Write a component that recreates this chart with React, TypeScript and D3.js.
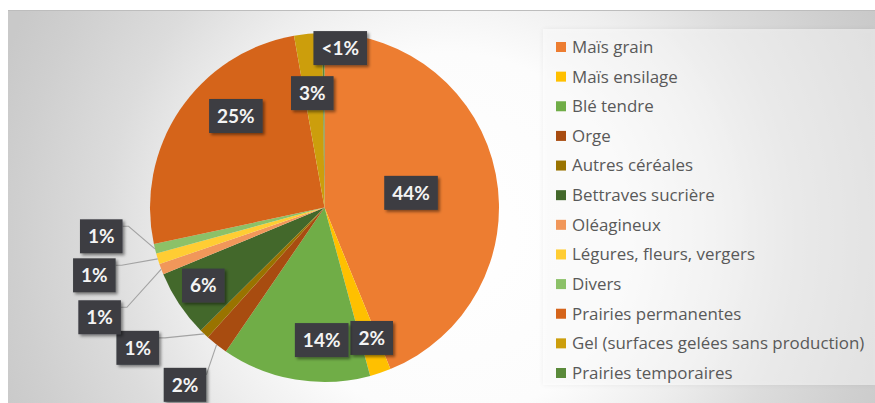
import React from 'react';
import * as d3 from 'd3';

const categories = [
  'Maïs grain',
  'Maïs ensilage',
  'Blé tendre',
  'Orge',
  'Autres céréales',
  'Bettraves sucrière',
  'Oléagineux',
  'Légures, fleurs, vergers',
  'Divers',
  'Prairies permanentes',
  'Gel (surfaces gelées sans production)',
  'Prairies temporaires',
];
const values = [43.9, 1.95, 13.8, 2.1, 0.9, 6.2, 1.0, 1.0, 0.9, 25.6, 2.6, 0.2];
const labelTexts = ['44%', '2%', '14%', '2%', '1%', '6%', '1%', '1%', '1%', '25%', '3%', '<1%'];
const colors = [
  '#ED7D31', '#FFC000', '#70AD47', '#A84C10', '#997300', '#43682B',
  '#F1975A', '#FFCD33', '#8CC168', '#D5641A', '#CC9E0C', '#5A8A3A',
];

// label layout: [angle offset from slice middle (deg), distance as fraction of radius, has leader line]
const labelLayout: [number, number, boolean][] = [
  [1.5, 0.503, false],
  [-1.2, 0.795, false],
  [-8.4, 0.76, false],
  [0, 1.293, true],
  [9.5, 1.339, true],
  [0.85, 0.826, false],
  [-5.3, 1.434, true],
  [0.7, 1.375, true],
  [6.35, 1.29, true],
  [12, 0.73, false],
  [-0.7, 0.659, false],
  [6, 0.918, false],
];

const W = 875;
const H = 403;
const cx = 324.5;
const cy = 207.5;
const R = 174.5;

const LABEL_FONT = 'bold 19px Lato';
let ctx: CanvasRenderingContext2D | null = null;
function measure(t: string, font: string) {
  if (!ctx) ctx = document.createElement('canvas').getContext('2d');
  if (!ctx) return t.length * 10;
  ctx.font = font;
  return ctx.measureText(t).width;
}

export default function App() {
  const pie = d3.pie<number>().sort(null).value((d) => d);
  const arcs = pie(values);
  const arc = d3.arc<d3.PieArcDatum<number>>().innerRadius(0).outerRadius(R);

  const legendY = d3.scalePoint<number>().domain(d3.range(categories.length)).range([47, 373]);

  const polar = (angDeg: number, dist: number) => {
    const a = (angDeg * Math.PI) / 180;
    return [cx + dist * Math.sin(a), cy - dist * Math.cos(a)];
  };

  const labels = arcs.map((a, i) => {
    const mid = ((a.startAngle + a.endAngle) / 2) * (180 / Math.PI);
    const [off, rf, leader] = labelLayout[i];
    const [lx, ly] = polar(mid + off, rf * R);
    const tw = measure(labelTexts[i], LABEL_FONT);
    const bw = tw + 16;
    const bh = 34;
    const box = { x: lx - bw / 2, y: ly - bh / 2, w: bw, h: bh };
    let leaderPath: string | null = null;
    if (leader) {
      const [tx, ty] = polar(mid, R);
      const sx = box.x + box.w;
      const sy = box.y + 7;
      const p = d3.path();
      p.moveTo(sx, sy);
      if (tx - sx > 12) p.lineTo(sx + 6, sy);
      p.lineTo(tx, ty);
      leaderPath = p.toString();
    }
    return { box, lx, ly, leaderPath, text: labelTexts[i] };
  });

  return (
    <svg
      width={W}
      height={H}
      style={{ position: 'absolute', left: 0, top: 0, background: '#ffffff' }}
    >
      <defs>
        <radialGradient id="bg" gradientUnits="userSpaceOnUse" cx={450} cy={235} r={480}>
          <stop offset="0" stopColor="#ffffff" />
          <stop offset="0.38" stopColor="#fcfcfc" />
          <stop offset="0.55" stopColor="#eeeeee" />
          <stop offset="0.72" stopColor="#dcdcdc" />
          <stop offset="0.9" stopColor="#cfcfcf" />
          <stop offset="1" stopColor="#c9c9c9" />
        </radialGradient>
        <filter id="shadow" x="-30%" y="-30%" width="160%" height="160%">
          <feDropShadow dx="2" dy="2" stdDeviation="1.6" floodColor="#000" floodOpacity="0.45" />
        </filter>
        <filter id="legshadow" x="-5%" y="-5%" width="110%" height="110%">
          <feDropShadow dx="0" dy="0" stdDeviation="2" floodColor="#000" floodOpacity="0.12" />
        </filter>
      </defs>
      <rect x={8} y={10} width={W - 8} height={H - 10} fill="url(#bg)" />
      <line x1={8} x2={W} y1={10.5} y2={10.5} stroke="#bdbdbd" strokeWidth={1} />

      {/* legend box */}
      <rect x={543} y={29} width={W - 543} height={356} fill="#ffffff" fillOpacity={0.45} filter="url(#legshadow)" />

      <g>
        {arcs.map((a, i) => (
          <path key={i} d={arc(a) || ''} transform={`translate(${cx},${cy})`} fill={colors[i]} />
        ))}
      </g>

      <g>
        {labels.map((l, i) =>
          l.leaderPath ? (
            <path key={i} d={l.leaderPath} fill="none" stroke="#a3a3a3" strokeWidth={1.1} />
          ) : null
        )}
      </g>

      <g>
        {labels.map((l, i) => (
          <g key={i}>
            <rect
              x={l.box.x}
              y={l.box.y}
              width={l.box.w}
              height={l.box.h}
              fill="#3c3e43"
              filter="url(#shadow)"
            />
            <text
              x={l.lx}
              y={l.ly}
              dy="0.36em"
              textAnchor="middle"
              fontFamily="Lato"
              fontWeight="bold"
              fontSize={19}
              fill="#f4f4f4"
            >
              {l.text}
            </text>
          </g>
        ))}
      </g>

      <g>
        {categories.map((c, i) => {
          const y = legendY(i) as number;
          return (
            <g key={c}>
              <rect x={556} y={y - 5} width={10} height={10} fill={colors[i]} />
              <text x={572} y={y} dy="0.35em" fontFamily="Open Sans" fontSize={16.9} fill="#595959">
                {c}
              </text>
            </g>
          );
        })}
      </g>
    </svg>
  );
}
